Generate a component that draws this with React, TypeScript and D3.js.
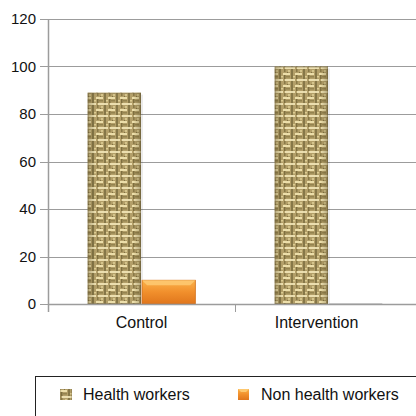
import React, { useEffect, useRef } from 'react';
import * as d3 from 'd3';

const categories = ['Control', 'Intervention'];
const seriesNames = ['Health workers', 'Non health workers'];
const healthWorkers = [89, 100];
const nonHealthWorkers = [10, 0];
const yTicks = [0, 20, 40, 60, 80, 100, 120];

const App = () => {
  const ref = useRef<SVGSVGElement | null>(null);

  useEffect(() => {
    const width = 416;
    const height = 416;
    const margin = { top: 19, right: -6, bottom: 112, left: 48 };
    const chartBottom = height - margin.bottom;

    const svg = d3.select(ref.current);
    svg.selectAll('*').remove();
    const font = 'Liberation Sans, Arial, Helvetica, sans-serif';

    // burlap texture for the health workers bars
    const defs = svg.append('defs');
    const pat = defs.append('pattern')
      .attr('id', 'burlap')
      .attr('patternUnits', 'userSpaceOnUse')
      .attr('width', 12)
      .attr('height', 12);
    pat.append('rect').attr('width', 12).attr('height', 12).attr('fill', '#b39f69');
    const strands = [
      // [x, y, w, h, color, opacity]
      [0, 1, 7, 2, '#efe1ae', 0.95],
      [8, 0, 2, 12, '#74673a', 0.7],
      [2, 7, 10, 2, '#f2e6b8', 0.9],
      [1, 3, 1.5, 4, '#6a5d31', 0.75],
      [1, 9, 1.5, 3, '#6a5d31', 0.6],
      [10, 4, 2, 1.5, '#dccc92', 1],
      [3, 4, 4, 1.5, '#8c7c48', 0.8],
      [5, 10, 2, 2, '#d8c890', 0.9],
      [4, 0, 1, 1, '#5e532b', 0.6],
    ];
    strands.forEach(([sx, sy, sw, sh, c, o]) => {
      pat.append('rect').attr('x', sx).attr('y', sy).attr('width', sw).attr('height', sh)
        .attr('fill', c as string).attr('opacity', o as number);
    });

    const sideShade = defs.append('linearGradient').attr('id', 'sideShade').attr('x1', 0).attr('x2', 1);
    sideShade.append('stop').attr('offset', '0%').attr('stop-color', '#3a3010').attr('stop-opacity', 0.3);
    sideShade.append('stop').attr('offset', '14%').attr('stop-color', '#3a3010').attr('stop-opacity', 0);
    sideShade.append('stop').attr('offset', '86%').attr('stop-color', '#3a3010').attr('stop-opacity', 0);
    sideShade.append('stop').attr('offset', '100%').attr('stop-color', '#3a3010').attr('stop-opacity', 0.3);

    const orange = defs.append('linearGradient').attr('id', 'orange').attr('x1', 0).attr('x2', 0).attr('y1', 0).attr('y2', 1);
    orange.append('stop').attr('offset', '0%').attr('stop-color', '#fbb24a');
    orange.append('stop').attr('offset', '50%').attr('stop-color', '#f18f2c');
    orange.append('stop').attr('offset', '100%').attr('stop-color', '#e0761c');

    const x0 = d3.scaleBand().domain(categories).range([margin.left, width - margin.right]);
    const x1 = d3.scaleBand().domain(seriesNames).range([0, x0.bandwidth()]).paddingOuter(0.73).paddingInner(0.02);
    const y = d3.scaleLinear().domain([0, 120]).range([chartBottom, margin.top]);

    // grid
    svg.append('g')
      .selectAll('line')
      .data(yTicks)
      .join('line')
      .attr('x1', margin.left - 8)
      .attr('x2', width)
      .attr('y1', d => Math.round(y(d)) + 0.5)
      .attr('y2', d => Math.round(y(d)) + 0.5)
      .attr('stroke', '#9c9c9c')
      .attr('stroke-width', 1);

    svg.append('g')
      .selectAll('text')
      .data(yTicks)
      .join('text')
      .attr('x', margin.left - 12)
      .attr('y', d => y(d) + 5)
      .attr('text-anchor', 'end')
      .style('font-family', font)
      .style('font-size', '15px')
      .attr('fill', '#111')
      .text(d => d);

    // y axis line
    svg.append('line')
      .attr('x1', margin.left + 0.5).attr('x2', margin.left + 0.5)
      .attr('y1', margin.top).attr('y2', chartBottom + 8)
      .attr('stroke', '#9c9c9c').attr('stroke-width', 1.5);

    const values: Record<string, number[]> = {
      'Health workers': healthWorkers,
      'Non health workers': nonHealthWorkers,
    };

    categories.forEach((cat, i) => {
      const g = svg.append('g').attr('transform', `translate(${x0(cat)},0)`);
      seriesNames.forEach(s => {
        const v = values[s][i];
        const bx = x1(s) as number;
        const bw = x1.bandwidth();
        const top = y(v);
        const h = chartBottom - top;
        if (v === 0) {
          g.append('rect').attr('x', bx).attr('y', chartBottom - 1).attr('width', bw).attr('height', 1).attr('fill', '#d0d0d0');
          return;
        }
        if (s === 'Health workers') {
          g.append('rect').attr('x', bx + 2).attr('y', top + 2).attr('width', bw).attr('height', h - 2).attr('fill', '#000').attr('opacity', 0.08);
          g.append('rect').attr('x', bx).attr('y', top).attr('width', bw).attr('height', h).attr('fill', 'url(#burlap)');
          g.append('rect').attr('x', bx).attr('y', top).attr('width', bw).attr('height', h).attr('fill', 'url(#sideShade)');
          g.append('rect').attr('x', bx + 0.5).attr('y', top + 0.5).attr('width', bw - 1).attr('height', h - 1)
            .attr('fill', 'none').attr('stroke', '#7a6c45').attr('stroke-opacity', 0.5);
        } else {
          g.append('rect').attr('x', bx).attr('y', top).attr('width', bw).attr('height', h).attr('fill', 'url(#orange)')
            .attr('stroke', '#d06a12').attr('stroke-width', 0.8);
          const bevel = Math.min(5, h / 3);
          g.append('polygon')
            .attr('points', `${bx},${top} ${bx + bw},${top} ${bx + bw - bevel},${top + bevel} ${bx + bevel},${top + bevel}`)
            .attr('fill', '#fdc870').attr('opacity', 0.9);
        }
      });
    });

    // x axis
    svg.append('line')
      .attr('x1', margin.left).attr('x2', width)
      .attr('y1', chartBottom + 0.5).attr('y2', chartBottom + 0.5)
      .attr('stroke', '#9c9c9c').attr('stroke-width', 1.5);
    categories.slice(1).forEach(cat => {
      svg.append('line')
        .attr('x1', (x0(cat) as number) + 0.5).attr('x2', (x0(cat) as number) + 0.5)
        .attr('y1', chartBottom).attr('y2', chartBottom + 8)
        .attr('stroke', '#9c9c9c').attr('stroke-width', 1);
    });
    // labels sit at the centre of the visible band (the plot is cropped on the right)
    const labelShift = [0, -12];
    svg.append('g')
      .selectAll('text')
      .data(categories)
      .join('text')
      .attr('x', (d, i) => (x0(d) as number) + x0.bandwidth() / 2 + labelShift[i])
      .attr('y', chartBottom + 24)
      .attr('text-anchor', 'middle')
      .style('font-family', font)
      .style('font-size', '16px')
      .attr('fill', '#111')
      .text(d => d);

    // legend
    const legend = svg.append('g');
    legend.append('rect')
      .attr('x', 35.5).attr('y', 376.5).attr('width', 400).attr('height', 60)
      .attr('fill', '#fff').attr('stroke', '#222').attr('stroke-width', 1);
    const legendX = [60, 238];
    seriesNames.forEach((s, i) => {
      const lg = legend.append('g').attr('transform', `translate(${legendX[i]},389)`);
      if (i === 0) {
        lg.append('rect').attr('width', 12).attr('height', 11).attr('fill', 'url(#burlap)');
        lg.append('rect').attr('width', 12).attr('height', 11).attr('fill', 'url(#sideShade)');
      } else {
        lg.append('rect').attr('width', 11).attr('height', 11).attr('fill', 'url(#orange)');
        lg.append('polygon').attr('points', '0,0 11,0 8,3 3,3').attr('fill', '#fdc870');
      }
      lg.append('text')
        .attr('x', 23)
        .attr('y', 10.5)
        .style('font-family', font)
        .style('font-size', '16px')
        .attr('fill', '#111')
        .text(s);
    });
  }, []);

  return (
    <svg
      ref={ref}
      width={416}
      height={416}
      style={{ position: 'absolute', left: 0, top: 0, background: '#fff' }}
    />
  );
};

export default App;
